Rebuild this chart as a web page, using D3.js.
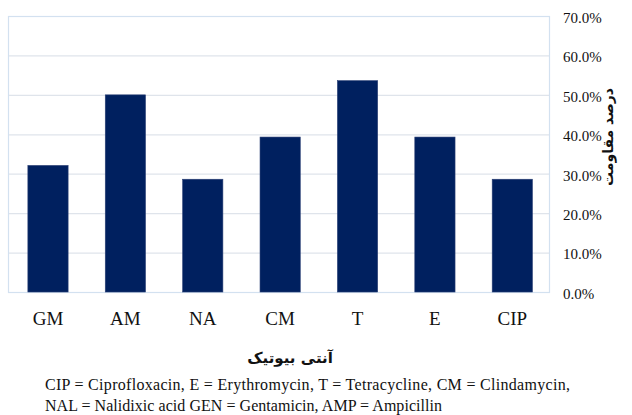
<!DOCTYPE html>
<html><head><meta charset="utf-8">
<script src="https://cdn.jsdelivr.net/npm/d3@7"></script>
<style>body{margin:0;background:#fff}svg{display:block}</style>
</head><body>
<script>
const categories = ["GM","AM","NA","CM","T","E","CIP"];
const values = [0.321, 0.50, 0.286, 0.393, 0.536, 0.393, 0.286];
const yTicks = [0,0.1,0.2,0.3,0.4,0.5,0.6,0.7];
const yTitle = "درصد مقاومت";
const xTitle = "آنتی بیوتیک";
const notes = ["CIP = Ciprofloxacin, E = Erythromycin, T = Tetracycline, CM = Clindamycin,",
               "NAL = Nalidixic acid GEN = Gentamicin, AMP = Ampicillin"];

const W=632,H=415;
const m={l:8,r:550,t:16,b:292};
const svg=d3.select("body").append("svg").attr("width",W).attr("height",H);
const x=d3.scaleBand().domain(categories).range([m.l+1.3,m.r+1]).paddingInner(0.48).paddingOuter(0.24);
const y=d3.scaleLinear().domain([0,0.7]).range([m.b,m.t]);
const serif="'Liberation Serif','Times New Roman',serif";

// gridlines
svg.append("g").selectAll("line").data(yTicks.slice(1,-1)).join("line")
  .attr("x1",m.l).attr("x2",m.r).attr("y1",d=>y(d)+0.5).attr("y2",d=>y(d)+0.5)
  .attr("stroke","#dfe4eb").attr("stroke-width",1.2);
// border
svg.append("rect").attr("x",m.l+0.5).attr("y",m.t+0.5).attr("width",m.r-m.l-1).attr("height",m.b-m.t)
  .attr("fill","none").attr("stroke","#d3e1f0").attr("stroke-width",1.2);

// bars
svg.append("g").selectAll("rect").data(categories).join("rect")
  .attr("x",d=>x(d)).attr("width",x.bandwidth())
  .attr("y",(d,i)=>y(values[i])).attr("height",(d,i)=>y(0)-y(values[i]))
  .attr("fill","#00205f").attr("stroke","#2a3f74").attr("stroke-width",0.6);

// right axis
const ya=d3.axisRight(y).tickValues(yTicks).tickFormat(d3.format(".1%")).tickSize(0).tickPadding(0);
const gy=svg.append("g").attr("transform",`translate(${563},0)`).call(ya);
gy.select(".domain").remove();
gy.selectAll("text").attr("font-family",serif).attr("font-size",15).attr("fill","#111").attr("dy","0.42em");

// bottom axis
const xa=d3.axisBottom(x).tickSize(0).tickPadding(0);
const gx=svg.append("g").attr("transform",`translate(0,${307})`).call(xa);
gx.select(".domain").remove();
gx.selectAll("text").attr("font-family",serif).attr("font-size",19).attr("fill","#111").attr("dy","0.95em");

// y title
svg.append("text").attr("transform","translate(609,137) rotate(-90)")
  .attr("text-anchor","middle").attr("dominant-baseline","middle")
  .attr("font-family","'DejaVu Sans','Noto Sans',sans-serif").attr("font-weight","bold").attr("font-size",14)
  .attr("direction","rtl").attr("fill","#111").text(yTitle);

// x title
svg.append("text").attr("x",290).attr("y",363).attr("text-anchor","middle")
  .attr("font-family","'DejaVu Sans','Noto Sans',sans-serif").attr("font-weight","bold").attr("font-size",15)
  .attr("direction","rtl").attr("fill","#111").text(xTitle);

// notes
const noteLen=[525,397];
svg.append("g").selectAll("text").data(notes).join("text")
  .attr("x",45).attr("y",(d,i)=>390+i*21)
  .attr("font-family",serif).attr("font-size",16).attr("fill","#111")
  .attr("textLength",(d,i)=>noteLen[i]).attr("lengthAdjust","spacing").text(d=>d);
</script>
</body></html>
